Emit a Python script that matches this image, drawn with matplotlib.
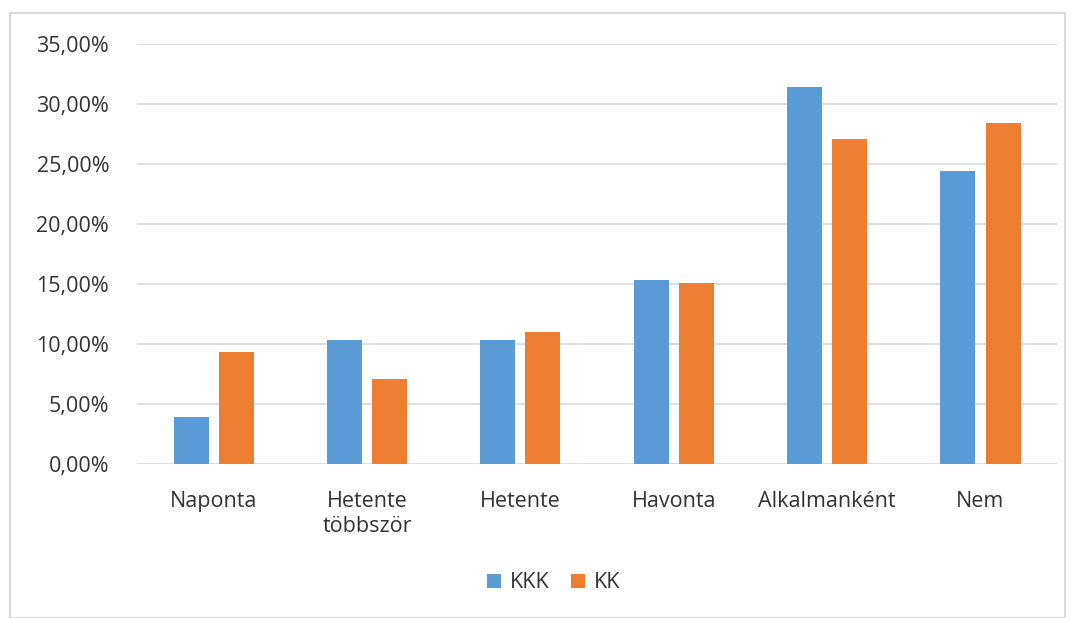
import numpy as np
import matplotlib.pyplot as plt
from matplotlib.patches import Rectangle
from matplotlib.ticker import FuncFormatter

plt.rcParams['font.family'] = ['Open Sans', 'DejaVu Sans']

# data (share of respondents)
categories = ['Naponta', 'Hetente\ntöbbször', 'Hetente', 'Havonta', 'Alkalmanként', 'Nem']
kkk = [0.039, 0.1039, 0.1034, 0.1539, 0.3144, 0.2447]
kk = [0.0936, 0.0708, 0.1103, 0.1508, 0.2711, 0.2842]
series_names = ['KKK', 'KK']

blue = '#5B9BD5'
orange = '#ED7D31'
text_col = '#333333'

fig = plt.figure(figsize=(10.75, 6.18), dpi=100)
ax = fig.add_axes([0.1274, 0.249, 0.856, 0.679])

x = np.arange(len(categories))
w = 0.228
ax.bar(x - 0.147, kkk, w, color=blue, label=series_names[0], zorder=3)
ax.bar(x + 0.147, kk, w, color=orange, label=series_names[1], zorder=3)

ax.set_xlim(-0.5, len(categories) - 0.5)
ax.set_ylim(0, 0.35)
ax.set_yticks(np.arange(0, 0.351, 0.05))
ax.yaxis.set_major_formatter(FuncFormatter(lambda v, p: f'{v*100:.2f}%'.replace('.', ',')))
ax.set_xticks(x)
ax.set_xticklabels(categories, linespacing=1.3)

ax.grid(axis='y', color='#d9d9d9', linewidth=1.2, zorder=0)
for s in ax.spines.values():
    s.set_visible(False)
ax.tick_params(axis='both', length=0, labelsize=15.5, colors=text_col)
ax.tick_params(axis='y', pad=20)
ax.tick_params(axis='x', pad=19)

leg = fig.legend(loc='center', bbox_to_anchor=(0.515, 0.057), ncol=2, frameon=False,
                 fontsize=15.5, handlelength=0.65, handleheight=0.65, columnspacing=1.0,
                 handletextpad=0.4)
for t in leg.get_texts():
    t.set_color(text_col)

# light frame around the chart
fig.patches.append(Rectangle((10 / 1075, 0), 1055 / 1075, 1 - 13 / 618,
                             transform=fig.transFigure, fill=False,
                             edgecolor='#d9d9d9', linewidth=1.5))

fig.savefig('out.png', dpi=100)
